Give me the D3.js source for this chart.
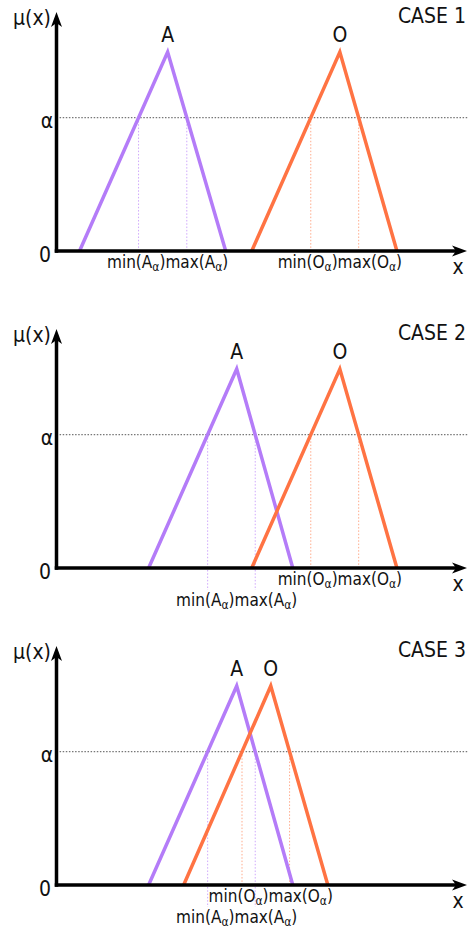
<!DOCTYPE html>
<html>
<head>
<meta charset="utf-8">
<script src="https://cdn.jsdelivr.net/npm/d3@7"></script>
<style>
  html, body { margin: 0; padding: 0; background: #fff; }
  svg { display: block; }
  text { font-family: "DejaVu Sans Condensed", "DejaVu Sans", sans-serif; font-stretch: condensed; fill: #111; }
</style>
</head>
<body>
<svg id="chart" width="468" height="934"></svg>
<script>
// ---- data ----
const caseNames = ["CASE 1", "CASE 2", "CASE 3"];
// triangular fuzzy numbers: [left, peak, right] on the x axis (arbitrary units)
const fuzzyA = [[23, 111, 169], [92, 180, 236], [92, 180, 236]];
const fuzzyO = [[195, 283, 340], [195, 283, 340], [127, 214, 271]];
// label row under the axis for each alpha-cut label (0 = first row, 1 = second row)
const labelRowA = [0, 1, 1];
const labelRowO = [0, 0, 0];
const alphaLevel = 0.67;
const peakLevel = 1;
const seriesNames = ["A", "O"];
const yTickLabels = ["0", "α"];

// ---- layout ----
const W = 468, panelH = 317;
const axisX = 56.5, baseY = 251, topY = 52, arrowTopY = 12;
const purple = "#b47cf8", orange = "#ff7343";
const purpleLight = "#cfa8fb", orangeLight = "#ffab8c";

const svg = d3.select("#chart");
const x = d3.scaleLinear().domain([0, 411]).range([axisX, W]);
const y = d3.scaleLinear().domain([0, peakLevel]).range([baseY, topY]);

caseNames.forEach((name, i) => {
  const g = svg.append("g").attr("transform", `translate(0,${i * panelH})`);
  const tris = [
    { name: seriesNames[0], v: fuzzyA[i], color: purple, light: purpleLight, row: labelRowA[i] },
    { name: seriesNames[1], v: fuzzyO[i], color: orange, light: orangeLight, row: labelRowO[i] }
  ];

  // alpha dotted line
  g.append("line")
    .attr("x1", axisX).attr("x2", W)
    .attr("y1", y(alphaLevel)).attr("y2", y(alphaLevel))
    .attr("stroke", "#777").attr("stroke-width", 1.2)
    .attr("stroke-dasharray", "1.5,1.6");

  tris.forEach(t => {
    const [l, p, r] = t.v;
    const aMin = l + (p - l) * alphaLevel;
    const aMax = r - (r - p) * alphaLevel;
    const bottom = t.row === 0 ? y(0) : y(0) + 22;
    [aMin, aMax].forEach(xv => {
      g.append("line")
        .attr("x1", x(xv)).attr("x2", x(xv))
        .attr("y1", y(alphaLevel)).attr("y2", bottom)
        .attr("stroke", t.light).attr("stroke-width", 1)
        .attr("stroke-dasharray", "1.5,1.8");
    });
  });

  tris.forEach(t => {
    const [l, p, r] = t.v;
    const line = d3.line().x(d => x(d[0])).y(d => y(d[1]));
    g.append("path")
      .attr("d", line([[l, 0], [p, peakLevel], [r, 0]]))
      .attr("fill", "none").attr("stroke", t.color)
      .attr("stroke-width", 3.5).attr("stroke-linejoin", "miter");

    // name above peak
    g.append("text")
      .attr("x", x(p)).attr("y", 42)
      .attr("text-anchor", "middle").attr("font-size", 21)
      .text(t.name);

    // alpha-cut label
    const ty = t.row === 0 ? y(0) + 17 : y(0) + 38;
    const txt = g.append("text")
      .attr("x", x(p)).attr("y", ty)
      .attr("text-anchor", "middle").attr("font-size", 17);
    txt.append("tspan").text("min(" + t.name);
    txt.append("tspan").attr("font-size", 12).attr("dy", 3).text("α");
    txt.append("tspan").attr("dy", -3).text(")max(" + t.name);
    txt.append("tspan").attr("font-size", 12).attr("dy", 3).text("α");
    txt.append("tspan").attr("dy", -3).text(")");
  });

  // axes
  g.append("line")
    .attr("x1", axisX).attr("x2", axisX)
    .attr("y1", baseY + 1.75).attr("y2", arrowTopY + 8)
    .attr("stroke", "#000").attr("stroke-width", 3.5);
  g.append("line")
    .attr("x1", axisX - 1.75).attr("x2", W - 8)
    .attr("y1", baseY).attr("y2", baseY)
    .attr("stroke", "#000").attr("stroke-width", 3.5);
  // arrow heads
  g.append("path")
    .attr("d", `M${axisX},${arrowTopY} L${axisX + 5.5},${arrowTopY + 15} L${axisX},${arrowTopY + 11} L${axisX - 5.5},${arrowTopY + 15} Z`)
    .attr("fill", "#000");
  g.append("path")
    .attr("d", `M${W - 1},${baseY} L${W - 16},${baseY - 5.5} L${W - 12},${baseY} L${W - 16},${baseY + 5.5} Z`)
    .attr("fill", "#000");

  // axis texts
  g.append("text").attr("x", 32).attr("y", 25).attr("text-anchor", "middle")
    .attr("font-size", 21).text("μ(x)");
  g.append("text").attr("x", 458).attr("y", 274).attr("text-anchor", "middle")
    .attr("font-size", 21).text("x");
  g.append("text").attr("x", 45).attr("y", y(0) + 11).attr("text-anchor", "middle")
    .attr("font-size", 21).text(yTickLabels[0]);
  g.append("text").attr("x", 47).attr("y", y(alphaLevel) + 10).attr("text-anchor", "middle")
    .attr("font-size", 21).text(yTickLabels[1]);
  g.append("text").attr("x", 466).attr("y", 23).attr("text-anchor", "end")
    .attr("font-size", 21).text(name);
});
</script>
</body>
</html>
